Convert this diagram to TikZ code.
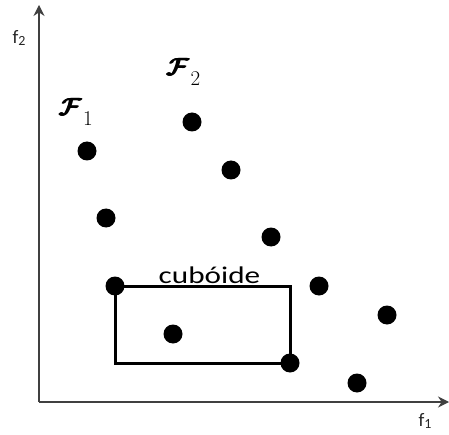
\documentclass[tikz,border=0pt]{standalone}
\usepackage{amsmath,amssymb}
\usepackage{bm}
\usepackage{fontspec}
\setsansfont{Carlito}
\usepackage{tikz}
\usetikzlibrary{arrows.meta}

\newcommand{\sublbl}[2]{#1\raisebox{-0.3ex}{\fontsize{14}{14}\selectfont #2}}
\newcommand{\frontlbl}[1]{$\pmb{\bm{\mathcal{F}}}$\kern1pt\raisebox{-10pt}{\fontsize{21}{21}\selectfont #1}}

\begin{document}
\begin{tikzpicture}[
  x=1pt, y=1pt,
  dot/.style={circle, fill=black, inner sep=0pt, minimum size=19pt},
  axis/.style={-{Stealth[length=11pt,width=11pt]}, line width=1.3pt, black!75},
  cube/.style={line width=3pt, black},
  lbl/.style={font=\sffamily\fontsize{19}{19}\selectfont, text=black!85},
  front/.style={font=\fontsize{23}{23}\selectfont\boldmath}
]
\useasboundingbox (0,0) rectangle (449,434);
% axes
\coordinate (O) at (39,32);
\coordinate (Ytop) at (39,429);
\coordinate (Xend) at (449,32);
\draw[axis] (O) -- (Ytop);
\draw[axis] (O) -- (Xend);
\node[lbl] (f2) at (19,396) {\sublbl{f}{2}};
\node[lbl] (f1) at (425,13) {\sublbl{f}{1}};
% fronts
\node[front] (F1) at (76,322) {\frontlbl{1}};
\node[front] (F2) at (183.5,362) {\frontlbl{2}};
% points
\node[dot] (p1) at (87,283) {};
\node[dot] (p2) at (192,312) {};
\node[dot] (p3) at (231,264) {};
\node[dot] (p4) at (106,216) {};
\node[dot] (p5) at (271,197) {};
\node[dot] (p6) at (115,148) {};
\node[dot] (p7) at (319,148) {};
\node[dot] (p8) at (173,100) {};
\node[dot] (p9) at (387,119) {};
\node[dot] (p10) at (290,71) {};
\node[dot] (p11) at (357,51) {};
% cuboid
\draw[cube] (p6.center) rectangle (p10.center);
\node[font=\sffamily\fontsize{24}{24}\selectfont, anchor=base, xscale=1.3, transform shape]
  (cub) at (209.5,151) {cubóide};
\end{tikzpicture}
\end{document}
